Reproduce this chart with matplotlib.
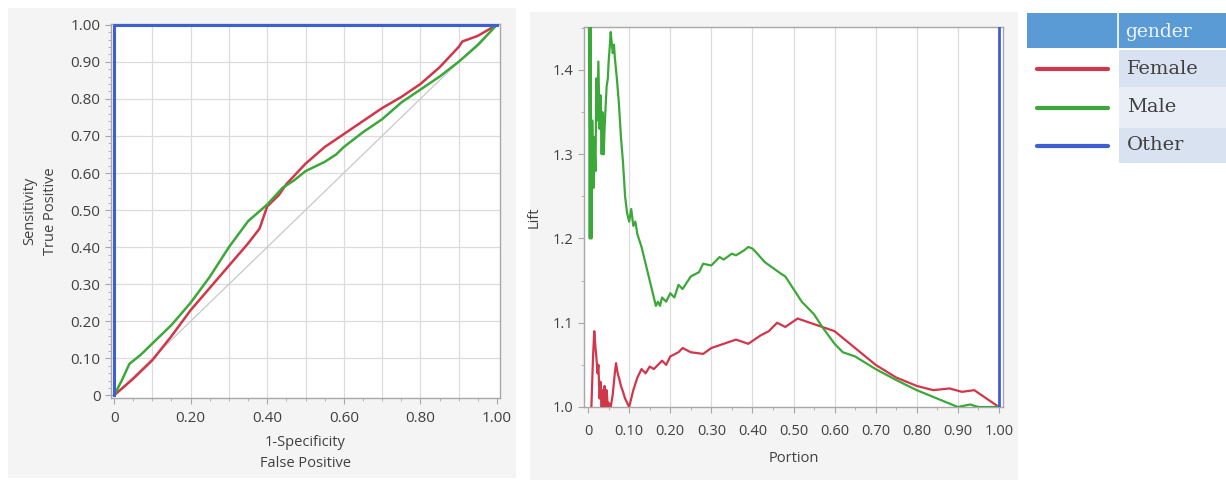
import matplotlib
matplotlib.use("Agg")
from matplotlib import pyplot as plt
from matplotlib.patches import Rectangle
from matplotlib.ticker import MultipleLocator, FuncFormatter

# ROC curves
roc_female_x = [0, 0.05, 0.10, 0.15, 0.20, 0.25, 0.30, 0.35, 0.38, 0.40, 0.43, 0.45, 0.50,
                0.55, 0.60, 0.65, 0.70, 0.75, 0.80, 0.85, 0.90, 0.91, 0.95, 1.0]
roc_female_y = [0, 0.045, 0.095, 0.16, 0.23, 0.29, 0.35, 0.41, 0.45, 0.51, 0.54, 0.57, 0.625,
                0.67, 0.705, 0.74, 0.775, 0.805, 0.84, 0.885, 0.94, 0.955, 0.97, 1.0]
roc_male_x = [0, 0.02, 0.04, 0.07, 0.10, 0.15, 0.20, 0.25, 0.30, 0.35, 0.40, 0.44, 0.47, 0.50,
              0.55, 0.58, 0.60, 0.65, 0.70, 0.75, 0.80, 0.85, 0.90, 0.95, 1.0]
roc_male_y = [0, 0.04, 0.085, 0.11, 0.14, 0.19, 0.25, 0.32, 0.40, 0.47, 0.515, 0.56, 0.58, 0.605,
              0.63, 0.65, 0.67, 0.71, 0.745, 0.79, 0.825, 0.86, 0.90, 0.945, 1.0]
roc_other_x = [0, 0, 1]
roc_other_y = [0, 1, 1]

# Lift curves
lift_male_x = [0.002, 0.004, 0.006, 0.008, 0.010, 0.013, 0.015, 0.018, 0.020, 0.022, 0.025,
               0.028, 0.030, 0.033, 0.035, 0.038, 0.040, 0.043, 0.045, 0.048, 0.050, 0.053,
               0.055, 0.058, 0.060, 0.063, 0.065, 0.070, 0.075, 0.080, 0.085, 0.090, 0.095,
               0.100, 0.105, 0.110, 0.115, 0.120, 0.130, 0.140, 0.150, 0.160, 0.165, 0.170,
               0.175, 0.180, 0.190, 0.200, 0.210, 0.220, 0.230, 0.250, 0.270, 0.280, 0.300,
               0.320, 0.330, 0.350, 0.360, 0.380, 0.390, 0.400, 0.410, 0.430, 0.450, 0.470,
               0.480, 0.500, 0.520, 0.550, 0.570, 0.600, 0.620, 0.650, 0.700, 0.750, 0.800,
               0.850, 0.900, 0.930, 0.950, 1.0]
lift_male_y = [1.46, 1.20, 1.46, 1.20, 1.34, 1.26, 1.32, 1.28, 1.39, 1.34, 1.41, 1.33, 1.37,
               1.30, 1.35, 1.30, 1.33, 1.36, 1.38, 1.39, 1.41, 1.43, 1.445, 1.43, 1.42, 1.43,
               1.415, 1.39, 1.36, 1.32, 1.29, 1.25, 1.23, 1.22, 1.235, 1.215, 1.22, 1.205,
               1.19, 1.17, 1.15, 1.13, 1.12, 1.125, 1.12, 1.13, 1.125, 1.135, 1.13, 1.145,
               1.14, 1.155, 1.16, 1.17, 1.168, 1.178, 1.175, 1.182, 1.18, 1.186, 1.19, 1.188,
               1.183, 1.172, 1.165, 1.158, 1.155, 1.14, 1.125, 1.11, 1.095, 1.075, 1.065,
               1.06, 1.045, 1.032, 1.02, 1.01, 1.0, 1.003, 1.0, 1.0]
lift_female_x = [0.008, 0.012, 0.015, 0.018, 0.020, 0.023, 0.025, 0.028, 0.030, 0.033, 0.035,
                 0.038, 0.040, 0.043, 0.045, 0.048, 0.050, 0.055, 0.060, 0.065, 0.068, 0.072,
                 0.075, 0.080, 0.085, 0.090, 0.095, 0.100, 0.105, 0.110, 0.120, 0.130, 0.140,
                 0.150, 0.160, 0.180, 0.190, 0.200, 0.220, 0.230, 0.250, 0.280, 0.300, 0.330,
                 0.360, 0.390, 0.420, 0.440, 0.460, 0.480, 0.510, 0.540, 0.570, 0.600, 0.630,
                 0.670, 0.700, 0.750, 0.800, 0.840, 0.880, 0.910, 0.940, 0.970, 1.0]
lift_female_y = [1.0, 1.06, 1.09, 1.07, 1.06, 1.04, 1.05, 1.01, 1.03, 1.0, 1.02, 1.0, 1.025,
                 1.0, 1.02, 1.0, 1.005, 1.0, 1.015, 1.04, 1.052, 1.04, 1.035, 1.025, 1.018,
                 1.01, 1.005, 1.0, 1.01, 1.02, 1.035, 1.045, 1.04, 1.048, 1.045, 1.055, 1.05,
                 1.06, 1.065, 1.07, 1.065, 1.063, 1.07, 1.075, 1.08, 1.075, 1.085, 1.09, 1.1,
                 1.095, 1.105, 1.1, 1.095, 1.09, 1.078, 1.062, 1.05, 1.035, 1.025, 1.02,
                 1.022, 1.018, 1.02, 1.01, 1.0]
lift_other_x = [1.0, 1.0]
lift_other_y = [1.0, 1.5]

legend_labels = ["Female", "Male", "Other"]
colors = ["#d1364a", "#3ca83a", "#3c5fd6"]

W, H = 1226, 484
fig = plt.figure(figsize=(W / 100, H / 100), dpi=100)
fig.patch.set_facecolor("white")

# grey panel backgrounds
for x0, y0, x1, y1 in [(8, 8, 516, 478), (530, 12, 1018, 480)]:
    fig.add_artist(Rectangle((x0 / W, 1 - y1 / H), (x1 - x0) / W, (y1 - y0) / H,
                             transform=fig.transFigure, facecolor="#f4f4f4",
                             edgecolor="none", zorder=-5))

plt.rcParams["font.family"] = ["Open Sans", "DejaVu Sans"]
tick_col = "#404040"
spine_col = "#a8a8a8"
grid_col = "#dcdcdc"


def fmt(v, pos):
    if abs(v) < 1e-9:
        return "0"
    return "%.2f" % v


def ax_box(l, t, r, b):
    return [l / W, 1 - b / H, (r - l) / W, (b - t) / H]


# ---- ROC panel
ax1 = fig.add_axes(ax_box(111, 24, 500, 398))
ax1.plot([0, 1], [0, 1], color="#c8c8c8", lw=0.9, zorder=1)
ax1.plot(roc_female_x, roc_female_y, color=colors[0], lw=1.8, zorder=3)
ax1.plot(roc_male_x, roc_male_y, color=colors[1], lw=1.8, zorder=3)
ax1.plot(roc_other_x, roc_other_y, color=colors[2], lw=2.2, zorder=4, clip_on=False)
ax1.set_xlim(-0.008, 1.008)
ax1.set_ylim(-0.007, 1.002)
ax1.xaxis.set_major_locator(MultipleLocator(0.2))
ax1.xaxis.set_minor_locator(MultipleLocator(0.05))
ax1.yaxis.set_major_locator(MultipleLocator(0.1))
ax1.yaxis.set_minor_locator(MultipleLocator(0.02))
ax1.xaxis.set_major_formatter(FuncFormatter(fmt))
ax1.yaxis.set_major_formatter(FuncFormatter(fmt))
for v in [i / 10 for i in range(1, 10)]:
    ax1.axvline(v, color=grid_col, lw=0.9, zorder=0)
    ax1.axhline(v, color=grid_col, lw=0.9, zorder=0)
ax1.set_ylabel("Sensitivity\nTrue Positive", fontsize=10.5, color=tick_col, labelpad=9,
               linespacing=1.55)
ax1.set_xlabel("1-Specificity\nFalse Positive", fontsize=10.5, color=tick_col, labelpad=7,
               linespacing=1.5)

# ---- Lift panel
ax2 = fig.add_axes(ax_box(584, 27, 1003, 407))
ax2.plot(lift_female_x, lift_female_y, color=colors[0], lw=1.6, zorder=3)
ax2.plot(lift_male_x, lift_male_y, color=colors[1], lw=1.6, zorder=3)
ax2.plot(lift_other_x, lift_other_y, color=colors[2], lw=2.0, zorder=4)
ax2.set_xlim(-0.01, 1.01)
ax2.set_ylim(1.0, 1.451)
ax2.xaxis.set_major_locator(MultipleLocator(0.1))
ax2.xaxis.set_minor_locator(MultipleLocator(0.05))
ax2.yaxis.set_major_locator(MultipleLocator(0.1))
ax2.yaxis.set_minor_locator(MultipleLocator(0.05))
ax2.xaxis.set_major_formatter(FuncFormatter(fmt))
ax2.yaxis.set_major_formatter(FuncFormatter(lambda v, p: "%.1f" % v))
for v in [i / 10 for i in range(1, 10)]:
    ax2.axvline(v, color=grid_col, lw=0.9, zorder=0)
ax2.set_ylabel("Lift", fontsize=10.5, color=tick_col, labelpad=8)
ax2.set_xlabel("Portion", fontsize=10.5, color=tick_col, labelpad=9)

for ax in (ax1, ax2):
    ax.set_facecolor("white")
    for s in ax.spines.values():
        s.set_color(spine_col)
        s.set_linewidth(1.0)
    ax.tick_params(which="major", length=4, color=spine_col, labelcolor=tick_col,
                   labelsize=11, width=0.8)
    ax.tick_params(which="minor", length=2.5, color=spine_col, width=0.6)
ax1.tick_params(axis="x", which="major", pad=5)
ax2.tick_params(axis="x", which="major", pad=8, labelsize=10.5)
ax2.tick_params(axis="y", which="major", labelsize=10.5)

# ---- legend table
lg = fig.add_axes([1027 / W, 1 - 163 / H, (W - 1027) / W, (163 - 13) / H])
lg.set_xlim(1027, W)
lg.set_ylim(163, 13)
lg.axis("off")
lg.add_patch(Rectangle((1027, 13), W - 1027, 35, facecolor="#5b9bd5", edgecolor="none"))
lg.plot([1117.5, 1117.5], [13, 48], color="white", lw=1.2)
lg.text(1125, 32, "gender", fontsize=13.5, color="#eef4fb", va="center",
        family=["DejaVu Serif"])
rows = [(50, 87), (87, 128), (128, 163)]
row_bg = ["#d9e2f1", "#e8edf6", "#d9e2f1"]
for (r0, r1), lab, col, bg in zip(rows, legend_labels, colors, row_bg):
    lg.add_patch(Rectangle((1119, r0), W - 1119, r1 - r0, facecolor=bg, edgecolor="none"))
    ym = (r0 + r1) / 2
    lg.plot([1037, 1108], [ym, ym], color=col, lw=3, solid_capstyle="round")
    lg.text(1127, ym, lab, fontsize=14, color="#404040", va="center",
            family=["DejaVu Serif"])

fig.savefig("out.png", dpi=100)
